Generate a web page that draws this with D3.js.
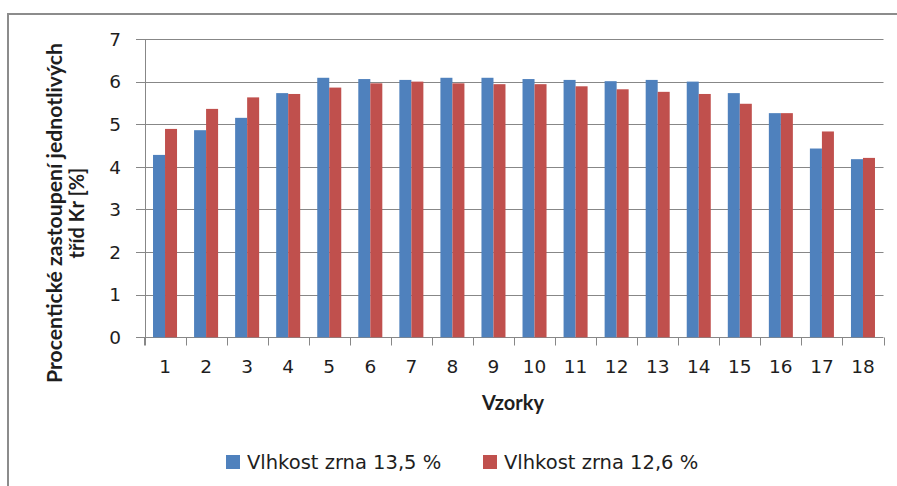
<!DOCTYPE html>
<html>
<head>
<meta charset="utf-8">
<script src="https://cdn.jsdelivr.net/npm/d3@7/dist/d3.min.js"></script>
<style>
  html, body { margin: 0; padding: 0; background: #fff; }
  svg { display: block; }
  text { fill: #1e1e1e; }
  .tick-label, .legend-label { font-family: "DejaVu Sans", Verdana, sans-serif; }
  .title { font-family: Lato, "Open Sans", sans-serif; font-weight: bold; }
</style>
</head>
<body>
<svg id="chart" width="897" height="486"></svg>
<script>
const categories = ["1","2","3","4","5","6","7","8","9","10","11","12","13","14","15","16","17","18"];
const seriesNames = ["Vlhkost zrna 13,5 %", "Vlhkost zrna 12,6 %"];
const series135 = [4.28, 4.86, 5.15, 5.73, 6.09, 6.06, 6.04, 6.09, 6.09, 6.06, 6.04, 6.01, 6.04, 6.00, 5.73, 5.26, 4.43, 4.18];
const series126 = [4.89, 5.36, 5.63, 5.71, 5.86, 5.96, 6.00, 5.96, 5.94, 5.94, 5.89, 5.82, 5.76, 5.71, 5.48, 5.26, 4.83, 4.21];
const yTicks = [0, 1, 2, 3, 4, 5, 6, 7];
const colors = ["#4F81BD", "#C0504D"];
const xTitle = "Vzorky";
const yTitleLines = ["Procentické zastoupení jednotlivých", "tříd Kr [%]"];

(function () {
const svg = d3.select("#chart");
const pLeft = 144.5, pRight = 883.5, pTop = 39, pBottom = 337.3;
const gridColor = "#878787";

const x = d3.scaleBand().domain(categories).range([pLeft, pRight]).paddingInner(0.415).paddingOuter(0.2075);
const xs = d3.scaleBand().domain(seriesNames).range([0, x.bandwidth()]);
const y = d3.scaleLinear().domain([0, 7]).range([pBottom, pTop]);
const crisp = v => Math.round(v) + 0.5;

// chart border (top & left visible)
svg.append("line").attr("x1", 8).attr("x2", 897).attr("y1", 14).attr("y2", 14)
  .attr("stroke", "#8c8c8c").attr("stroke-width", 2);
svg.append("line").attr("x1", 8).attr("x2", 8).attr("y1", 13).attr("y2", 486)
  .attr("stroke", "#8c8c8c").attr("stroke-width", 2);

// gridlines + y ticks
svg.append("g").selectAll("line").data(yTicks).join("line")
  .attr("x1", 136).attr("x2", pRight)
  .attr("y1", d => crisp(y(d))).attr("y2", d => crisp(y(d)))
  .attr("stroke", gridColor).attr("stroke-width", 1);

// y axis line
svg.append("line").attr("x1", crisp(pLeft)).attr("x2", crisp(pLeft))
  .attr("y1", crisp(y(7))).attr("y2", crisp(y(0)) + 8)
  .attr("stroke", gridColor);

// x tick marks at band boundaries
const boundaries = categories.map(c => x(c) - x.step() * x.paddingInner() / 2).concat([pRight]);
svg.append("g").selectAll("line").data(boundaries).join("line")
  .attr("x1", d => crisp(d)).attr("x2", d => crisp(d))
  .attr("y1", crisp(y(0))).attr("y2", crisp(y(0)) + 8)
  .attr("stroke", gridColor);

// bars
const data = categories.map((c, i) => ({ c, vals: [series135[i], series126[i]] }));
const groups = svg.append("g").selectAll("g").data(data).join("g")
  .attr("transform", d => `translate(${x(d.c)},0)`);
groups.selectAll("rect").data(d => d.vals.map((v, k) => ({ v, k }))).join("rect")
  .attr("x", d => xs(seriesNames[d.k]))
  .attr("width", xs.bandwidth())
  .attr("y", d => y(d.v))
  .attr("height", d => y(0) - y(d.v))
  .attr("fill", d => colors[d.k]);

// y tick labels
svg.append("g").selectAll("text").data(yTicks).join("text")
  .attr("class", "tick-label")
  .attr("x", 121).attr("y", d => y(d))
  .attr("dy", "0.36em")
  .attr("text-anchor", "end")
  .attr("font-size", 18.5)
  .text(d => d);

// x tick labels
svg.append("g").selectAll("text").data(categories).join("text")
  .attr("class", "tick-label")
  .attr("x", d => x(d) + x.bandwidth() / 2)
  .attr("y", 373)
  .attr("text-anchor", "middle")
  .attr("font-size", 18.5)
  .text(d => d);

// x title
svg.append("text").attr("class", "title").attr("x", 513).attr("y", 410)
  .attr("text-anchor", "middle").attr("font-size", 20)
  .text(xTitle);

// y title
const yt = svg.append("text").attr("class", "title").attr("transform", "translate(0,213) rotate(-90)")
  .attr("text-anchor", "middle").attr("font-size", 20);
yt.append("tspan").attr("x", 0).attr("y", 62).attr("textLength", 340).attr("lengthAdjust", "spacingAndGlyphs").text(yTitleLines[0]);
yt.append("tspan").attr("x", 0).attr("y", 84).text(yTitleLines[1]);

// legend
const legendX = [226, 483];
const lg = svg.append("g").selectAll("g").data(seriesNames).join("g")
  .attr("transform", (d, i) => `translate(${legendX[i]},455)`);
lg.append("rect").attr("width", 14).attr("height", 14).attr("fill", (d, i) => colors[i]);
lg.append("text").attr("class", "legend-label").attr("x", 21).attr("y", 14).attr("font-size", 19.5).text(d => d);
})();
</script>
</body>
</html>
